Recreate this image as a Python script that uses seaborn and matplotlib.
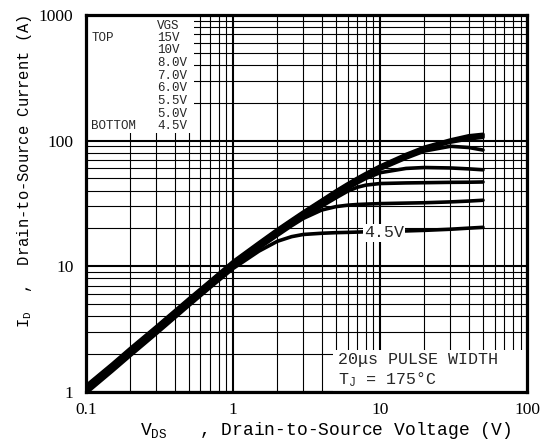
import matplotlib
matplotlib.use("Agg")
import matplotlib.pyplot as plt
import matplotlib.ticker as mticker
from matplotlib.patches import Rectangle
import seaborn as sns
import pandas as pd

# --- данные ---
vds = [0.1, 0.15, 0.2, 0.3, 0.5, 0.7, 1, 1.5, 2, 2.5, 3, 4, 5, 6, 7, 8, 10, 15, 20, 30, 40, 50]

id_15v = [1.12, 1.66, 2.22, 3.3, 5.5, 7.65, 10.9, 15.4, 19.6, 23.4, 27, 33.5, 39.7, 45.2, 50.2, 54.7, 62.7, 77.5, 88.5, 101, 109, 112]
id_10v = [1.1, 1.63, 2.18, 3.24, 5.4, 7.52, 10.7, 15.1, 19.3, 23, 26.5, 33, 39, 44.5, 49.4, 53.8, 61.4, 76, 87, 99.5, 107, 109]
id_8v = [1.08, 1.6, 2.14, 3.18, 5.3, 7.38, 10.5, 14.85, 18.95, 22.6, 26.1, 32.5, 38.4, 43.8, 48.7, 53, 60.2, 74.5, 85.5, 97, 103, 106]
id_7v = [1.06, 1.57, 2.1, 3.13, 5.2, 7.25, 10.3, 14.6, 18.6, 22.2, 25.6, 31.9, 37.7, 43.1, 47.9, 52.1, 59.1, 72.5, 82.5, 90, 88, 84]
id_6v = [1.04, 1.54, 2.06, 3.07, 5.12, 7.13, 10.1, 14.35, 18.25, 21.75, 25, 31, 36.5, 41.5, 46, 50, 55.5, 60, 61, 60.5, 59.5, 58.5]
id_55v = [1.02, 1.52, 2.03, 3.02, 5.04, 7.02, 9.95, 14.15, 18, 21.4, 24.5, 30, 35, 39.5, 42.5, 44.2, 45.5, 46, 46.2, 46.5, 46.6, 46.8]
id_5v = [1.0, 1.49, 1.99, 2.97, 4.96, 6.92, 9.8, 13.95, 17.6, 21, 24, 28, 29.8, 30.6, 31, 31.2, 31.5, 31.8, 32, 32.5, 33, 33.5]
id_45v = [0.98, 1.46, 1.95, 2.91, 4.87, 6.8, 9.6, 13.2, 15.8, 17.2, 17.9, 18.3, 18.5, 18.6, 18.7, 18.8, 18.9, 19.1, 19.3, 19.7, 20.1, 20.4]

vgs_labels = ["15V", "10V", "8.0V", "7.0V", "6.0V", "5.5V", "5.0V", "4.5V"]
series = [id_15v, id_10v, id_8v, id_7v, id_6v, id_55v, id_5v, id_45v]

x_ticks = [0.1, 1, 10, 100]
x_ticklabels = ["0.1", "1", "10", "100"]
y_ticks = [1, 10, 100, 1000]
y_ticklabels = ["1", "10", "100", "1000"]

# таблица для seaborn
rows = []
for lab, ids in zip(vgs_labels, series):
    for v, i in zip(vds, ids):
        rows.append({"VDS": v, "ID": i, "VGS": lab})
df = pd.DataFrame(rows)

sns.set_theme(style="white")
plt.rcParams["font.family"] = ["Liberation Mono", "DejaVu Sans"]
plt.rcParams["mathtext.fontset"] = "custom"
plt.rcParams["mathtext.rm"] = "Liberation Mono"
plt.rcParams["mathtext.it"] = "Liberation Mono"

fig, ax = plt.subplots(figsize=(5.55, 4.48), dpi=100)
fig.subplots_adjust(left=0.155, right=0.95, bottom=0.125, top=0.967)

sns.lineplot(data=df, x="VDS", y="ID", hue="VGS", palette=["black"] * len(vgs_labels),
             estimator=None, sort=False, lw=2.6, legend=False, ax=ax, zorder=2)

ax.set_xscale("log")
ax.set_yscale("log")
ax.set_xlim(0.1, 100)
ax.set_ylim(1, 1000)

ax.xaxis.set_major_locator(mticker.FixedLocator(x_ticks))
ax.xaxis.set_major_formatter(mticker.FixedFormatter(x_ticklabels))
ax.yaxis.set_major_locator(mticker.FixedLocator(y_ticks))
ax.yaxis.set_major_formatter(mticker.FixedFormatter(y_ticklabels))
ax.xaxis.set_minor_locator(mticker.LogLocator(base=10, subs=range(2, 10)))
ax.yaxis.set_minor_locator(mticker.LogLocator(base=10, subs=range(2, 10)))
ax.xaxis.set_minor_formatter(mticker.NullFormatter())
ax.yaxis.set_minor_formatter(mticker.NullFormatter())

ax.tick_params(which="both", length=0)
ax.tick_params(axis="x", pad=7)
ax.tick_params(axis="y", pad=9)
for lbl in ax.get_xticklabels() + ax.get_yticklabels():
    lbl.set_family("Liberation Serif")
    lbl.set_fontsize(12.5)
    lbl.set_color("black")

ax.set_axisbelow(True)
ax.grid(which="major", color="black", lw=1.5)
ax.grid(which="minor", color="black", lw=0.8)
for sp in ax.spines.values():
    sp.set_color("black")
    sp.set_linewidth(2.3)
    sp.set_zorder(5)

# подписи осей
ax.set_xlabel(r"V$_{\mathrm{DS}}$   , Drain-to-Source Voltage (V)", fontsize=13, color="black")
ax.xaxis.set_label_coords(0.542, -0.075)
ax.set_ylabel(r"I$_{\mathrm{D}}$  ,  Drain-to-Source Current (A)", fontsize=11.2, color="black")
ax.yaxis.set_label_coords(-0.118, 0.585)

# легенда VGS (белая область сверху слева)
ax.add_patch(Rectangle((0, 0.687), 0.245, 0.313, transform=ax.transAxes,
                       facecolor="white", edgecolor="none", zorder=1))
ax.text(0.161, 0.969, "VGS", transform=ax.transAxes, fontsize=9, va="center", zorder=4)
for k, lab in enumerate(vgs_labels):
    ax.text(0.161, 0.939 - k * 0.0335, lab, transform=ax.transAxes,
            fontsize=9, va="center", zorder=4)
ax.text(0.012, 0.939, "TOP", transform=ax.transAxes, fontsize=9, va="center", zorder=4)
ax.text(0.012, 0.939 - 7 * 0.0335, "BOTTOM", transform=ax.transAxes, fontsize=9,
        va="center", zorder=4)

# подпись кривой 4.5V
ax.text(10.6, 18.4, "4.5V", fontsize=12, ha="center", va="center", zorder=4,
        bbox=dict(facecolor="white", edgecolor="none", pad=1))

# условия измерения
ax.add_patch(Rectangle((0.56, 0), 0.44, 0.111, transform=ax.transAxes,
                       facecolor="white", edgecolor="none", zorder=3))
ax.text(0.571, 0.085, "20μs PULSE WIDTH", transform=ax.transAxes, fontsize=12,
        va="center", zorder=4)
ax.text(0.571, 0.032, r"T$_{\mathrm{J}}$ = 175°C", transform=ax.transAxes, fontsize=12,
        va="center", zorder=4)

fig.savefig("out.png", dpi=100, facecolor="white")
